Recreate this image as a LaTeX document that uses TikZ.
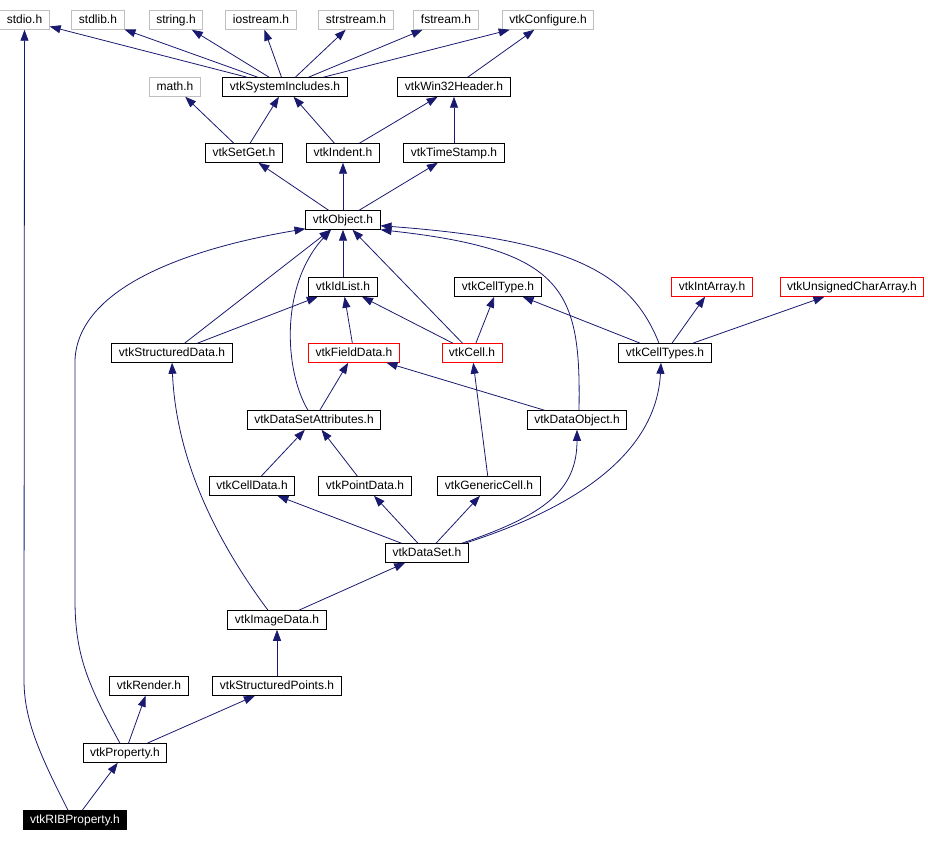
\documentclass[tikz,border=0pt]{standalone}
\usepackage{fontspec}
\setmainfont{Liberation Sans}
\usepackage{tikz}
\usetikzlibrary{arrows.meta,positioning}
\definecolor{edgec}{HTML}{191970}
\definecolor{extc}{HTML}{BFBFBF}
\definecolor{undoc}{HTML}{FF0000}
\tikzset{
  hdr/.style={draw=black, fill=white, line width=1pt, font=\fontsize{12}{14}\selectfont,
              minimum height=18.5pt, inner xsep=7pt, inner ysep=1pt,
              text height=8.8pt, text depth=2.4pt},
  sys/.style={hdr, draw=extc},
  nodoc/.style={hdr, draw=undoc},
  root/.style={hdr, fill=black, text=white},
  dep/.style={-{Triangle[length=11pt,width=8pt]}, line width=0.8pt, draw=edgec},
}
\begin{document}
\begin{tikzpicture}[x=1pt, y=-1pt]
  \useasboundingbox (0,0) rectangle (928,842);
  % system headers
  \node[sys] (stdio) at (24.5,20) {stdio.h};
  \node[sys] (stdlib) at (98,20) {stdlib.h};
  \node[sys] (string) at (176,20) {string.h};
  \node[sys] (iostream) at (261,20) {iostream.h};
  \node[sys] (strstream) at (356,20) {strstream.h};
  \node[sys] (fstream) at (446,20) {fstream.h};
  \node[sys] (config) at (548,20) {vtkConfigure.h};
  \node[sys] (math) at (175,87) {math.h};
  \node[hdr] (sysinc) at (285,87) {vtkSystemIncludes.h};
  \node[hdr] (win32) at (454,87) {vtkWin32Header.h};
  \node[hdr] (setget) at (244,153) {vtkSetGet.h};
  \node[hdr] (indent) at (343,153) {vtkIndent.h};
  \node[hdr] (tstamp) at (454,153) {vtkTimeStamp.h};
  \node[hdr] (object) at (343,220) {vtkObject.h};
  \node[hdr] (idlist) at (343,287) {vtkIdList.h};
  \node[hdr] (celltype) at (498,287) {vtkCellType.h};
  \node[nodoc] (intarr) at (712,287) {vtkIntArray.h};
  \node[nodoc] (ucarr) at (852,287) {vtkUnsignedCharArray.h};
  \node[hdr] (sdata) at (172,353) {vtkStructuredData.h};
  \node[nodoc] (fdata) at (354,353) {vtkFieldData.h};
  \node[nodoc] (cell) at (472,353) {vtkCell.h};
  \node[hdr] (celltypes) at (665,353) {vtkCellTypes.h};
  \node[hdr] (dsattr) at (314,420) {vtkDataSetAttributes.h};
  \node[hdr] (dobj) at (577,420) {vtkDataObject.h};
  \node[hdr] (cdata) at (252,486) {vtkCellData.h};
  \node[hdr] (pdata) at (365,486) {vtkPointData.h};
  \node[hdr] (gcell) at (489,486) {vtkGenericCell.h};
  \node[hdr] (dset) at (427,553) {vtkDataSet.h};
  \node[hdr] (idata) at (277,620) {vtkImageData.h};
  \node[hdr] (render) at (149,686) {vtkRender.h};
  \node[hdr] (spts) at (277,686) {vtkStructuredPoints.h};
  \node[hdr] (prop) at (125,753) {vtkProperty.h};
  \node[root] (rib) at (75,820) {vtkRIBProperty.h};
  % includes
  \draw[dep] ([xshift=-7pt]rib.north) .. controls (40,755) and (24,720) .. (24,680) -- (stdio.south);
  \draw[dep] (rib) -- (prop);
  \draw[dep] (prop) -- (render);
  \draw[dep] (prop) -- (spts);
  \draw[dep] ([xshift=-5pt]prop.north) .. controls (88,685) and (75,655) .. (75,600) -- (75,360)
    .. controls (78,290) and (180,250) .. ([yshift=1pt]object.south west);
  \draw[dep] (spts) -- (idata);
  \draw[dep] ([xshift=-9pt]idata.north) .. controls (212,535) and (176,455) .. (sdata.south);
  \draw[dep] (idata) -- (dset);
  \draw[dep] (dset) -- (cdata);
  \draw[dep] (dset) -- (pdata);
  \draw[dep] (dset) -- (gcell);
  \draw[dep] ([xshift=-7pt]dset.north east) .. controls (545,515) and (577,490) .. (dobj.south);
  \draw[dep] ([xshift=-4pt]dset.north east) .. controls (600,500) and (657,440) .. ([xshift=-4pt]celltypes.south);
  \draw[dep] (cdata) -- (dsattr);
  \draw[dep] (pdata) -- (dsattr);
  \draw[dep] (gcell) -- (cell);
  \draw[dep] (dsattr) -- (fdata);
  \draw[dep] ([xshift=-6pt]dsattr.north) .. controls (284,370) and (280,285) .. ([xshift=-12pt]object.south);
  \draw[dep] (dobj) -- (fdata);
  \draw[dep] ([xshift=2pt]dobj.north) .. controls (581,290) and (565,250) .. (object.south east);
  \draw[dep] (sdata) -- (object);
  \draw[dep] (sdata) -- (idlist);
  \draw[dep] (fdata) -- (idlist);
  \draw[dep] (cell) -- (idlist);
  \draw[dep] (cell) -- (object);
  \draw[dep] (cell) -- (celltype);
  \draw[dep] (celltypes) -- (celltype);
  \draw[dep] ([xshift=-6pt]celltypes.north) .. controls (632,275) and (575,240) .. ([yshift=4pt]object.south east);
  \draw[dep] (celltypes) -- (intarr);
  \draw[dep] (celltypes) -- (ucarr);
  \draw[dep] (idlist) -- (object);
  \draw[dep] (object) -- (setget);
  \draw[dep] (object) -- (indent);
  \draw[dep] (object) -- (tstamp);
  \draw[dep] (setget) -- (math);
  \draw[dep] (setget) -- (sysinc);
  \draw[dep] (indent) -- (sysinc);
  \draw[dep] (indent) -- (win32);
  \draw[dep] (tstamp) -- (win32);
  \draw[dep] (win32) -- (config);
  \draw[dep] (sysinc) -- (stdio);
  \draw[dep] (sysinc) -- (stdlib);
  \draw[dep] (sysinc) -- (string);
  \draw[dep] (sysinc) -- (iostream);
  \draw[dep] (sysinc) -- (strstream);
  \draw[dep] (sysinc) -- (fstream);
  \draw[dep] (sysinc) -- (config);
\end{tikzpicture}
\end{document}
